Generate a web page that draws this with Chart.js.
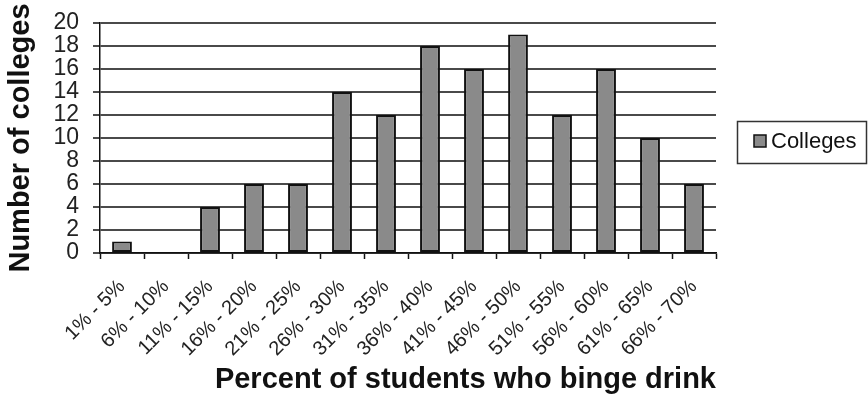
<!DOCTYPE html>
<html>
<head>
<meta charset="utf-8">
<script src="https://cdn.jsdelivr.net/npm/chart.js@4.4.1/dist/chart.umd.min.js"></script>
<style>
  html, body { margin: 0; padding: 0; background: #fff; }
  #wrap { width: 868px; height: 397px; position: relative; }
</style>
</head>
<body>
<div id="wrap"><canvas id="c" width="868" height="397"></canvas></div>
<script>
const categories = ["1% - 5%", "6% - 10%", "11% - 15%", "16% - 20%", "21% - 25%", "26% - 30%", "31% - 35%",
  "36% - 40%", "41% - 45%", "46% - 50%", "51% - 55%", "56% - 60%", "61% - 65%", "66% - 70%"];
const colleges = [1, 0, 4, 6, 6, 14, 12, 18, 16, 19, 12, 16, 10, 6];
const yTicks = [0, 2, 4, 6, 8, 10, 12, 14, 16, 18, 20];
const seriesName = "Colleges";
const xTitle = "Percent of students who binge drink";
const yTitle = "Number of colleges";

const FONT = "'Liberation Sans', Arial, sans-serif";

// Boxed legend on the right, drawn from the dataset's own label and colours
const boxLegend = {
  id: 'boxLegend',
  afterDraw(chart) {
    const ctx = chart.ctx;
    const ds = chart.data.datasets[0];
    const x = 737, y = 121, w = 129, h = 42;
    ctx.save();
    ctx.strokeStyle = '#333';
    ctx.lineWidth = 1.5;
    ctx.strokeRect(x + 0.5, y + 0.5, w, h);
    ctx.fillStyle = ds.backgroundColor;
    ctx.fillRect(754, 135, 12, 12);
    ctx.strokeStyle = ds.borderColor;
    ctx.lineWidth = 1.5;
    ctx.strokeRect(754, 135, 12, 12);
    ctx.fillStyle = '#111';
    ctx.font = '22px ' + FONT;
    ctx.textBaseline = 'middle';
    ctx.fillText(ds.label, 771, 142);
    ctx.restore();
  }
};

new Chart(document.getElementById('c'), {
  type: 'bar',
  data: {
    labels: categories,
    datasets: [{
      label: seriesName,
      data: colleges,
      backgroundColor: '#8a8a8a',
      borderColor: '#111',
      borderWidth: 2,
      borderSkipped: false,
      categoryPercentage: 1,
      barPercentage: 0.45
    }]
  },
  options: {
    responsive: false,
    animation: false,
    devicePixelRatio: 1,
    layout: { padding: { top: 23, right: 152, left: 0, bottom: 0 } },
    plugins: {
      legend: { display: false },
      tooltip: { enabled: false }
    },
    scales: {
      x: {
        offset: true,
        grid: {
          offset: true,
          drawOnChartArea: false,
          drawTicks: true,
          tickLength: 6,
          tickColor: '#111',
          tickWidth: 1.5
        },
        border: { color: '#111', width: 1.5 },
        ticks: {
          minRotation: 45,
          maxRotation: 45,
          autoSkip: false,
          padding: 16,
          color: '#222',
          font: { family: FONT, size: 20 }
        },
        title: {
          display: true,
          text: xTitle,
          align: 'end',
          color: '#111',
          font: { family: FONT, size: 29, weight: 'bold' },
          padding: { top: 0, bottom: 0 }
        },
        afterFit(scale) { scale.height = 144; }
      },
      y: {
        min: 0,
        max: 20,
        afterBuildTicks(scale) { scale.ticks = yTicks.map(v => ({ value: v })); },
        grid: {
          color: '#4a4a4a',
          lineWidth: 2,
          drawTicks: true,
          tickLength: 7,
          tickColor: '#111',
          tickWidth: 1.5
        },
        border: { color: '#111', width: 1.5 },
        ticks: {
          autoSkip: false,
          padding: 14,
          color: '#222',
          font: { family: FONT, size: 23 }
        },
        title: {
          display: true,
          text: yTitle,
          color: '#111',
          font: { family: FONT, size: 29, weight: 'bold' },
          padding: { top: 4, bottom: 0 }
        },
        afterFit(scale) {
          scale.width = 100;
          scale.paddingTop = 0;
          scale.paddingBottom = 0;
        }
      }
    }
  },
  plugins: [boxLegend]
});
</script>
</body>
</html>
